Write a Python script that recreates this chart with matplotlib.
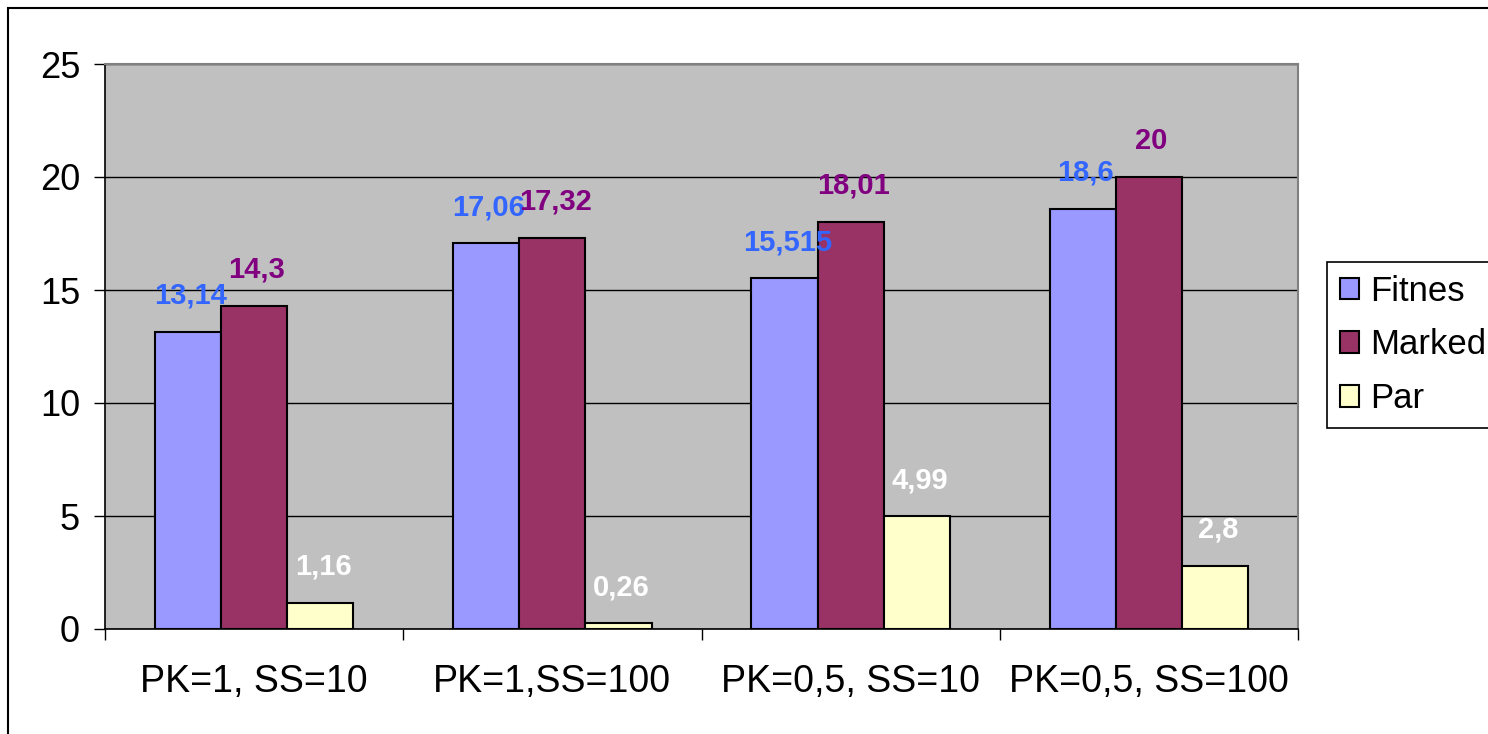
import numpy as np
import matplotlib
matplotlib.use("Agg")
import matplotlib.pyplot as plt
from matplotlib.patches import Rectangle

categories = ["PK=1, SS=10", "PK=1,SS=100", "PK=0,5, SS=10", "PK=0,5, SS=100"]
fitnes = [13.14, 17.06, 15.515, 18.6]
marked = [14.3, 17.32, 18.01, 20]
par = [1.16, 0.26, 4.99, 2.8]
series_names = ["Fitnes", "Marked", "Par"]

fitnes_lbl = ["13,14", "17,06", "15,515", "18,6"]
marked_lbl = ["14,3", "17,32", "18,01", "20"]
par_lbl = ["1,16", "0,26", "4,99", "2,8"]

bar_colors = ["#9999FF", "#993366", "#FFFFCC"]
label_colors = ["#3366FF", "#800080", "#FFFFFF"]

plt.rcParams['font.family'] = ['Liberation Sans', 'DejaVu Sans']

W, H = 1488, 734
fig = plt.figure(figsize=(W / 100, H / 100), dpi=100)
ax = fig.add_axes([105 / W, (H - 629) / H, (1298 - 105) / W, (629 - 64) / H])
ax.set_facecolor("#C0C0C0")

x = np.arange(len(categories))
w = 0.222
data = [fitnes, marked, par]
labels = [fitnes_lbl, marked_lbl, par_lbl]
for i in range(3):
    pos = x + (i - 1) * w
    ax.bar(pos, data[i], width=w, color=bar_colors[i], edgecolor="black",
           linewidth=1.5, label=series_names[i], zorder=3)
    for px, v, t in zip(pos, data[i], labels[i]):
        ax.annotate(t, (px, v), xytext=(2, 26), textcoords="offset points",
                    ha="center", va="center", fontsize=21, fontweight="bold",
                    color=label_colors[i], zorder=4)

ax.set_xlim(-0.5, 3.5)
ax.set_ylim(0, 25)
ax.set_yticks([0, 5, 10, 15, 20, 25])
ax.yaxis.grid(True, color="black", linewidth=1)
ax.set_axisbelow(True)
ax.tick_params(axis="y", direction="out", length=8, width=1, pad=10, labelsize=26)

ax.set_xticks([-0.5, 0.5, 1.5, 2.5, 3.5])
ax.set_xticklabels([])
ax.set_xticks(x, minor=True)
ax.set_xticklabels(categories, minor=True)
ax.tick_params(axis="x", which="major", direction="out", length=8, width=1)
ax.tick_params(axis="x", which="minor", length=0, pad=25, labelsize=27)

for s in ["top", "right"]:
    ax.spines[s].set_color("#808080")
    ax.spines[s].set_linewidth(1.5)
ax.spines["left"].set_linewidth(1.2)
ax.spines["bottom"].set_linewidth(1.2)

leg = fig.legend(loc="upper left", bbox_to_anchor=(1327 / W, 1 - 262 / H),
                 fontsize=25, frameon=True, fancybox=False, framealpha=1,
                 edgecolor="black", handlelength=0.57, handleheight=0.57,
                 handletextpad=0.32, labelspacing=0.6, borderpad=0.36,
                 borderaxespad=0)
leg.get_frame().set_linewidth(1.2)

fig.patches.append(Rectangle((8 / W, -0.1), 2, 1.1 - 8 / H, transform=fig.transFigure,
                             fill=False, edgecolor="black", linewidth=1.5))

fig.savefig("out.png", dpi=100)
